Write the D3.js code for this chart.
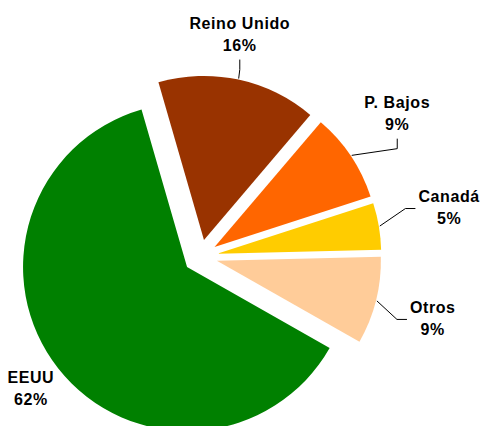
<!DOCTYPE html>
<html>
<head>
<meta charset="utf-8">
<script src="https://cdn.jsdelivr.net/npm/d3@7"></script>
<style>
  html, body { margin: 0; padding: 0; background: #fff; }
  svg { display: block; }
</style>
</head>
<body>
<svg id="pie" width="480" height="426"></svg>
<script>
const categories = ['EEUU', 'Reino Unido', 'P. Bajos', 'Canadá', 'Otros']
const shares = [62.3, 15.7, 8.8, 4.6, 8.6]
const colors = ['#008000', '#993300', '#FF6600', '#FFCC00', '#FFCC99']

// label placement (layout only): distance from pie centre, angle nudge in degrees, leader side
const labelRadius = [215.1, 225.9, 243.5, 253.5, 240.5]
const labelShift = [0.3, -2.1, -2.3, -1.5, 0.8]
const leaderSide = [null, 'bottom', 'bottom', 'left', 'left']

const width = 480
const height = 426
const cx = 200.4
const cy = 256.5
const radius = 164
const explode = 17
const start = 119.6 * Math.PI / 180

const rad = deg => deg * Math.PI / 180
const polar = (r, a) => [r * Math.sin(a), -r * Math.cos(a)]

const rows = categories.map((name, i) => ({
  name,
  share: shares[i],
  color: colors[i],
  labelR: labelRadius[i],
  shift: labelShift[i],
  leader: leaderSide[i]
}))

const svg = d3.select('#pie')
  .attr('viewBox', `0 0 ${width} ${height}`)

const g = svg.append('g').attr('transform', `translate(${cx},${cy})`)

const pie = d3.pie()
  .sort(null)
  .value(d => d.share)
  .startAngle(start)
  .endAngle(start + 2 * Math.PI)

const arc = d3.arc().innerRadius(0).outerRadius(radius)
const arcs = pie(rows)
const mid = d => (d.startAngle + d.endAngle) / 2

g.selectAll('path.slice')
  .data(arcs)
  .enter()
  .append('path')
  .attr('class', 'slice')
  .attr('transform', d => `translate(${polar(explode, mid(d))})`)
  .attr('fill', d => d.data.color)
  .attr('d', arc)

const fmt = v => `${d3.format('.0f')(v)}%`

const labels = g.selectAll('text.lbl')
  .data(arcs)
  .enter()
  .append('text')
  .attr('class', 'lbl')
  .attr('text-anchor', 'middle')
  .attr('font-family', '"Liberation Sans", Arial, sans-serif')
  .attr('font-weight', 'bold')
  .attr('font-size', 16)
  .attr('letter-spacing', 0.6)
  .attr('fill', '#000')
  .each(function (d) {
    const [px, py] = polar(d.data.labelR, mid(d) + rad(d.data.shift))
    const t = d3.select(this)
    t.append('tspan').attr('x', px).attr('y', py - 5.5).text(d.data.name)
    t.append('tspan').attr('x', px).attr('dy', 22).text(fmt(d.data.share))
  })

labels.each(function (d) {
  if (!d.data.leader) return
  const b = this.getBBox()
  const s = polar(radius + explode + 1, mid(d))
  let pts
  if (d.data.leader === 'bottom') {
    const x = b.x + b.width / 2
    const yEnd = b.y + b.height + 6
    pts = [s, [x, yEnd + 10], [x, yEnd]]
  } else {
    const y = b.y + b.height / 2 + 1
    const xEnd = b.x - 3
    pts = [s, [xEnd - 10, y], [xEnd, y]]
  }
  g.append('path')
    .attr('fill', 'none')
    .attr('stroke', '#000')
    .attr('stroke-width', 1)
    .attr('d', d3.line()(pts))
})
</script>
</body>
</html>
